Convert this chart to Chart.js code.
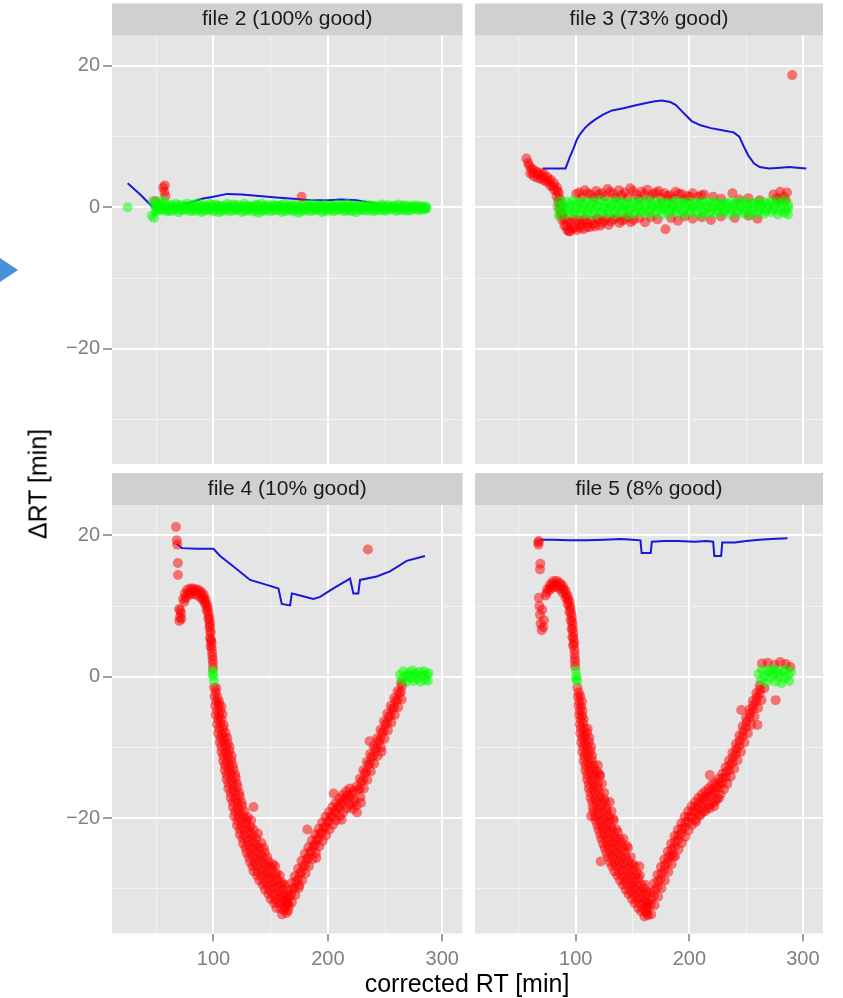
<!DOCTYPE html>
<html>
<head>
<meta charset="utf-8">
<script src="https://cdn.jsdelivr.net/npm/chart.js@4.4.1/dist/chart.umd.min.js"></script>
<style>
  body { margin: 0; width: 843px; height: 998px; position: relative; overflow: hidden; background: #fff;
         font-family: "Liberation Sans", Arial, sans-serif; }
  canvas { position: absolute; }
  .title { position: absolute; font-size: 25px; color: #000; white-space: nowrap; }
  #arrow { position: absolute; left: 0; top: 258px; width: 0; height: 0;
           border-top: 12px solid transparent; border-bottom: 12px solid transparent; border-left: 18px solid #4a8fd8; }
</style>
</head>
<body>
<div id="arrow"></div>
<canvas id="f2" width="470" height="470" style="left:0;top:0"></canvas>
<canvas id="f3" width="373" height="470" style="left:470px;top:0"></canvas>
<canvas id="f4" width="470" height="528" style="left:0;top:470px"></canvas>
<canvas id="f5" width="373" height="528" style="left:470px;top:470px"></canvas>
<div class="title" style="left:38px;top:484px;transform:translate(-50%,-50%) rotate(-90deg)">ΔRT [min]</div>
<div class="title" style="left:467px;top:983px;transform:translate(-50%,-50%)">corrected RT [min]</div>
<script>
// axis ticks (minor ticks carry an empty label)
const xTickValues = [50, 100, 150, 200, 250, 300];
const xTickLabels = ['', '100', '', '200', '', '300'];
const yTickValues = [-30, -20, -10, 0, 10, 20];
const yTickLabels = ['', '−20', '', '0', '', '20'];
const xRange = [11.3, 317.7];
const yRange = [-36.3, 24.3];

const facetTitles = ['file 2 (100% good)', 'file 3 (73% good)', 'file 4 (10% good)', 'file 5 (8% good)'];

// ---- file 2 ----
const blue2 = [[25,3.4],[36,1.8],[47,0],[52,-0.1],[60,0],[70,0.2],[80,0.7],[90,1.2],[100,1.5],[112,1.9],[125,1.8],
  [140,1.6],[155,1.4],[170,1.2],[185,1.0],[200,1.0],[212,1.1],[225,1.0],[236,0.7],[245,0.4]];
const red2 = [[49,0.9],[56,2.8],[57,2.2],[58,1.6],[57.5,3.1],[177,1.5]];
const green2 = [[25,0],[48,-1.5],[50,0.3],[55,1.0],
  [47,0.9],[52,0.5],[57,0.6],[62,0.4],[67,0.5],[72,0.3],[77,0.5],[82,0.4],[87,0.6],[92,0.3],[97,0.5],[102,0.4],
  [107,0.2],[112,0.5],[117,0.4],[122,0.3],[127,0.5],[132,0.2],[137,0.4],[142,0.5],[147,0.3],[152,0.4],[157,0.2],
  [162,0.5],[167,0.3],[172,0.4],[177,0.2],[182,0.4],[187,0.5],[192,0.3],[197,0.4],[202,0.2],[207,0.4],[212,0.3],
  [217,0.5],[222,0.3],[227,0.2],[232,0.4],[237,0.3],[242,0.2],[247,0.4],[252,0.3],[257,0.2],[262,0.4],[267,0.3],
  [272,0.2],[277,0.3],[282,0.2],[286,0.1],
  [46,-1.2],[49.5,-0.6],[54.5,-0.4],[59.5,-0.6],[64.5,-0.5],[69.5,-0.7],[74.5,-0.4],[79.5,-0.6],[84.5,-0.5],
  [89.5,-0.7],[94.5,-0.4],[99.5,-0.6],[104.5,-0.7],[109.5,-0.5],[114.5,-0.6],[119.5,-0.4],[124.5,-0.7],[129.5,-0.5],
  [134.5,-0.6],[139.5,-0.8],[144.5,-0.5],[149.5,-0.6],[154.5,-0.4],[159.5,-0.7],[164.5,-0.5],[169.5,-0.6],
  [174.5,-0.8],[179.5,-0.5],[184.5,-0.6],[189.5,-0.4],[194.5,-0.7],[199.5,-0.5],[204.5,-0.6],[209.5,-0.4],
  [214.5,-0.6],[219.5,-0.5],[224.5,-0.7],[229.5,-0.4],[234.5,-0.5],[239.5,-0.6],[244.5,-0.4],[249.5,-0.5],
  [254.5,-0.3],[259.5,-0.5],[264.5,-0.4],[269.5,-0.5],[274.5,-0.3],[279.5,-0.4],[284.5,-0.3]];
const green2Mid = [[50,-0.1],[55,0.0],[60,-0.2],[65,0.0],[70,-0.1],[75,0.1],[80,-0.1],[85,0.0],[90,-0.2],[95,0.0],
  [100,-0.1],[105,0.1],[110,-0.1],[115,0.0],[120,-0.2],[125,0.0],[130,-0.1],[135,0.0],[140,-0.2],[145,0.0],
  [150,-0.1],[155,0.1],[160,-0.1],[165,0.0],[170,-0.2],[175,0.0],[180,-0.1],[185,0.0],[190,-0.1],[195,0.1],
  [200,-0.1],[205,0.0],[210,-0.2],[215,0.0],[220,-0.1],[225,0.0],[230,-0.1],[235,0.1],[240,-0.1],[245,0.0],
  [250,-0.1],[255,0.0],[260,-0.1],[265,0.0],[270,-0.1],[275,0.0],[280,-0.1],[285,-0.1],
  [49,0.2],[54,0.3],[59,0.1],[64,0.2],[69,0.3],[74,0.1],[79,0.2],[84,0.3],[89,0.2],[94,0.1],[99,0.3],[104,0.2],
  [109,0.1],[114,0.2],[119,0.3],[124,0.1],[129,0.2],[134,0.1],[139,0.3],[144,0.2],[149,0.1],[154,0.2],[159,0.3],
  [164,0.1],[169,0.2],[174,0.1],[179,0.2],[184,0.3],[189,0.1],[194,0.2],[199,0.1],[204,0.2],[209,0.3],[214,0.1],
  [219,0.2],[224,0.1],[229,0.2],[234,0.1],[239,0.2],[244,0.1],[249,0.2],[254,0.1],[259,0.2],[264,0.1],[269,0.2],
  [274,0.1],[279,0.1],[284,0.0],
  [51.5,-0.4],[56.5,-0.3],[61.5,-0.5],[66.5,-0.3],[71.5,-0.4],[76.5,-0.2],[81.5,-0.4],[86.5,-0.3],[91.5,-0.5],
  [96.5,-0.3],[101.5,-0.4],[106.5,-0.5],[111.5,-0.3],[116.5,-0.4],[121.5,-0.3],[126.5,-0.5],[131.5,-0.3],
  [136.5,-0.4],[141.5,-0.5],[146.5,-0.3],[151.5,-0.4],[156.5,-0.3],[161.5,-0.5],[166.5,-0.3],[171.5,-0.4],
  [176.5,-0.5],[181.5,-0.3],[186.5,-0.4],[191.5,-0.3],[196.5,-0.5],[201.5,-0.3],[206.5,-0.4],[211.5,-0.3],
  [216.5,-0.4],[221.5,-0.5],[226.5,-0.3],[231.5,-0.4],[236.5,-0.3],[241.5,-0.4],[246.5,-0.3],[251.5,-0.4],
  [256.5,-0.2],[261.5,-0.4],[266.5,-0.3],[271.5,-0.4],[276.5,-0.2],[281.5,-0.3],[286,-0.2]];

// ---- file 3 ----
const blue3 = [[71,5.5],[80,5.5],[91,5.5],[95,7.2],[98,8.3],[101,9.6],[104,10.4],[108,11.2],[112,11.8],[117,12.4],
  [124,13.1],[132,13.7],[142,14.0],[152,14.4],[163,14.8],[170,15.0],[176,15.1],[183,14.9],[188,14.5],[194,13.5],
  [202,12.2],[210,11.6],[219,11.2],[229,10.9],[239,10.6],[244,10.0],[248,8.6],[252,7.3],[257,6.2],[262,5.7],
  [270,5.5],[280,5.6],[288,5.7],[295,5.6],[303,5.5]];
const red3 = [[290.6,18.7],
  [56.5,6.9],[59,5.9],[61,5.5],[63,5.3],[66,5.0],[69,4.9],[72,4.7],[75,4.3],[78,3.9],[81,3.4],[83.5,2.8],[85,2.0],
  [86,1.2],[87,0.3],[60,4.8],[63,4.4],[66,4.2],[69,4.0],[72,3.8],[75,3.5],[78,3.0],[81,2.5],[83,1.6],[84.5,0.8],
  [85.5,-0.2],[86.5,-1.0],[88,-1.8],[90,-2.6],[92.5,-3.2],[95,-3.4],[88.5,-0.8],[90,-1.6],
  [103,2.1],[108,2.4],[113,1.8],[118,2.3],[123,2.0],[128,2.6],[133,1.9],[138,2.4],[143,2.1],[148,2.7],[153,1.8],
  [158,2.2],[163,2.5],[168,1.9],[173,2.3],[178,2.0],[183,1.7],[188,2.2],[193,1.9],[198,1.6],[203,2.0],[208,1.5],
  [213,1.8],[105.5,1.4],[115.5,1.3],[125.5,1.5],[135.5,1.3],[145.5,1.4],[155.5,1.2],[165.5,1.4],[175.5,1.3],
  [185.5,1.2],[195.5,1.1],[221,1.5],[228,1.2],[238,2.0],[244,1.1],[252,1.3],[262,1.0],
  [274,1.8],[277,1.3],[280,2.2],[283,1.5],[286,2.1],[285,1.0],[279,0.9],
  [92,-2.6],[96,-2.2],[99,-2.9],[102,-1.8],[105,-2.5],[108,-1.6],[111,-2.3],[114,-1.9],[117,-2.7],[120,-1.7],
  [123,-2.2],[127,-1.5],[131,-2.0],[136,-1.4],[141,-1.9],[146,-1.3],[151,-1.8],[156,-1.5],[161,-2.1],[166,-1.4],
  [172,-1.7],[179,-3.1],[184,-1.5],[190,-1.9],[196,-1.3],[203,-1.6],[211,-1.4],[219,-1.8],[228,-1.3],[240,-1.5],
  [252,-1.2],[260,-1.6],[94,-3.4],[97,-3.0],[101,-3.2],[104,-2.9],[107,-3.1],[110,-2.8]];
const red3Fill = [[100.5,1.9],[110.5,2.0],[120.5,1.8],[130.5,2.2],[140.5,1.7],[150.5,2.3],[160.5,1.8],[170.5,2.1],
  [180.5,1.6],[190.5,1.9],[200.5,1.5],[210.5,1.7],[93.5,-2.0],[98.5,-1.6],[103.5,-2.3],[106.5,-1.9],[112.5,-2.8],
  [115.5,-2.4],[118.5,-1.5],[121.5,-2.6],[125,-1.9],[129,-2.5],[133.5,-1.7],[138.5,-2.2],[143.5,-1.6],[148.5,-2.1],
  [58,6.3],[62,4.9],[67,4.6],[71,4.3],[76,3.8],[80,3.0],[84,2.3],[86.5,0.6],[87.5,-0.5]];
const green3 = [
  [86,0.9],[92,0.8],[98,1.0],[104,0.7],[110,0.9],[116,0.8],[122,1.0],[128,0.7],[134,0.9],[140,0.8],[146,0.6],
  [152,0.9],[158,0.8],[164,1.0],[170,0.7],[176,0.8],[182,0.6],[188,0.9],[194,0.7],[200,0.8],[206,0.6],[212,0.9],
  [218,0.7],[224,0.8],[230,0.6],[236,0.8],[242,0.7],[248,0.9],[254,0.6],[260,0.8],[266,0.7],[272,0.9],[278,0.8],
  [284,1.0],
  [84,0.1],[89,-0.2],[95,0.0],[101,0.1],[107,-0.1],[113,0.0],[119,0.2],[125,-0.1],[131,0.0],[137,0.1],[143,-0.1],
  [149,0.0],[155,0.1],[161,-0.2],[167,0.0],[173,0.1],[179,-0.1],[185,0.0],[191,0.1],[197,-0.1],[203,0.0],[209,0.1],
  [215,-0.1],[221,0.0],[227,0.1],[233,-0.1],[239,0.0],[245,0.1],[251,-0.1],[257,0.0],[263,0.1],[269,-0.1],[275,0.0],
  [281,0.1],[287,-0.1],
  [85,-1.2],[92,-1.0],[98,-0.8],[104,-1.0],[110,-0.9],[116,-1.1],[122,-0.8],[128,-0.9],[134,-1.0],[140,-0.8],
  [146,-1.1],[152,-0.9],[158,-0.7],[164,-1.0],[170,-0.8],[176,-1.0],[182,-0.9],[188,-0.7],[194,-1.0],[200,-0.8],
  [206,-0.9],[212,-1.1],[218,-0.8],[224,-0.9],[230,-0.7],[236,-1.0],[242,-0.8],[248,-0.9],[254,-1.1],[260,-0.8],
  [266,-0.9],[272,-0.7],[278,-1.0],[284,-0.8],[287,-1.0]];
const green3Fill = [[89,0.5],[95,0.4],[101,0.6],[107,0.4],[113,0.5],[119,0.3],[125,0.5],[131,0.4],[137,0.6],[143,0.4],
  [149,0.5],[155,0.3],[161,0.5],[167,0.4],[173,0.5],[179,0.3],[185,0.5],[191,0.4],[197,0.5],[203,0.3],[209,0.5],
  [215,0.4],[221,0.5],[227,0.3],[233,0.5],[239,0.4],[245,0.5],[251,0.3],[257,0.5],[263,0.4],[269,0.5],[275,0.4],
  [281,0.5],[287,0.4],
  [87,-0.5],[93,-0.4],[99,-0.6],[105,-0.4],[111,-0.5],[117,-0.4],[123,-0.6],[129,-0.4],[135,-0.5],[141,-0.3],
  [147,-0.5],[153,-0.4],[159,-0.6],[165,-0.4],[171,-0.5],[177,-0.3],[183,-0.5],[189,-0.4],[195,-0.5],[201,-0.3],
  [207,-0.5],[213,-0.4],[219,-0.6],[225,-0.4],[231,-0.5],[237,-0.3],[243,-0.5],[249,-0.4],[255,-0.5],[261,-0.4],
  [267,-0.5],[273,-0.3],[279,-0.5],[285,-0.4]];

// ---- file 4 ----
const blue4 = [[68,18.8],[72.4,18.2],[85,18.1],[100,18.1],[105.8,17.1],[117.5,15.6],[132,13.7],[146.6,13.0],
  [156.8,12.5],[159.7,10.3],[167,10.1],[168.5,11.8],[175.7,11.5],[187.3,11.0],[193.2,11.3],[204.8,12.5],
  [219.4,13.9],[222.3,11.8],[226.6,11.8],[228.1,13.7],[242.7,14.2],[254.3,14.9],[268.9,16.4],[284.9,17.1]];
const red4 = [[67.2,21.2],[68,19.3],[68.3,18.7],[68.9,16.1],[69,14.4],[70,9.6],[70.6,8.4],[71.6,9.0],[70.2,7.9],
  [72,8.2],[71,9.4],[235,18.0],
  [73.5,11.0],[75,11.8],[77,12.3],[79.5,12.5],[82,12.5],[84.5,12.4],[87,12.3],[89.5,12.0],[91.5,11.6],[93,11.0],
  [94.5,10.2],[95.5,9.3],[96.5,8.3],[97,7.3],[97.5,6.2],[98,5.1],[98.5,4.0],[99,2.9],[99.5,1.9],
  [76,11.2],[79,11.6],[82,11.7],[85,11.6],[88,11.3],[90.5,10.9],[92.5,10.3],[94,9.4],[95.5,8.2],[96.5,7.0],
  [97,5.5],[97.5,4.3],
  [100.5,-1.5],[102.5,-1.6],[101,-2.8],[103.5,-2.9],[101.5,-4.1],[104.5,-4.0],[107,-4.2],[102,-5.4],[105,-5.5],
  [108,-5.3],[103,-6.7],[106,-6.6],[109,-6.8],[104,-8.0],[107.5,-8.1],[110.5,-7.9],[105.5,-9.3],[109,-9.2],
  [112.5,-9.4],[107,-10.6],[110.5,-10.7],[114,-10.5],[108.5,-11.9],[112,-12.0],[115.5,-11.8],[110,-13.2],
  [113.5,-13.3],[117.5,-13.1],[111.5,-14.5],[115.5,-14.6],[119.5,-14.3],[113,-15.8],[117,-15.9],[121,-15.6],
  [115,-17.1],[119,-17.2],[123,-16.9],[117,-18.4],[121,-18.5],[125,-18.2],[135,-18.4],[118,-19.7],[122,-19.8],
  [126,-19.6],[130,-19.9],[120.5,-21.0],[124.5,-21.1],[128.5,-20.8],[132.5,-21.2],[123,-22.3],[127,-22.4],
  [131,-22.1],[135,-22.5],[139,-22.2],[126,-23.6],[130,-23.7],[134,-23.4],[138,-23.8],[142,-23.5],[129,-24.9],
  [133,-25.0],[137,-24.7],[141,-25.1],[145,-24.8],[132,-26.2],[136,-26.3],[140,-26.0],[144,-26.4],[148,-26.1],
  [152,-26.5],[135,-27.5],[139,-27.6],[143,-27.4],[147,-27.7],[151,-27.3],[155,-27.8],[140,-28.8],[144,-28.9],
  [148,-28.6],[152,-29.0],[156,-28.7],[160,-29.1],[145,-30.1],[149,-30.2],[153,-29.9],[157,-30.3],[161,-30.0],
  [150,-31.4],[154,-31.5],[158,-31.2],[162,-31.6],[165,-31.3],[155,-32.7],[159,-32.8],[162.5,-32.6],[166,-32.4],
  [160,-33.6],[164,-33.4],
  [162,-33.0],[162,-31.5],[165,-32.0],[165,-30.2],[168,-30.8],[168,-29.2],[171,-29.8],[171,-28.2],[174,-28.6],
  [174,-27.1],[177,-27.6],[177,-26.0],[180,-26.6],[180,-25.0],[183,-25.6],[183,-24.1],[186,-24.6],[186,-23.2],
  [189,-23.7],[189,-22.3],[192,-22.8],[192,-21.5],[195,-22.0],[195,-20.6],[198,-21.2],[198,-19.8],[201,-20.4],
  [201,-19.1],[204,-19.8],[204,-18.4],[207,-19.1],[207,-17.8],[210,-18.5],[210,-17.2],[213,-18.0],[213,-16.7],
  [216,-17.4],[216,-16.2],[219,-17.0],[219,-15.8],[222,-17.8],[222,-16.2],[222,-18.7],[225,-18.2],[225,-15.5],
  [228,-15.8],[228,-14.4],[231,-14.6],[231,-13.2],[234,-13.4],[234,-12.0],[237,-12.2],[237,-10.9],[240,-11.1],
  [240,-9.8],[243,-10.0],[243,-8.7],[246,-8.8],[246,-7.5],[249,-7.6],[249,-6.3],[252,-6.5],[252,-5.2],[255,-5.4],
  [255,-4.1],[258,-4.3],[258,-3.0],[261,-3.2],[261,-2.0],[264,-2.1],[264,-0.9],
  [182,-21.6],[236.5,-9.1],[229,-17.8],[205,-16.5],[190,-25.6],[175,-29.5],[212,-20.2],[247,-10.6]];
const red4Fill = [
  [74.5,10.6],[77.5,11.8],[80.5,12.1],[83.5,12.1],[86.5,12.0],[89,11.7],[91,11.2],[93,10.6],[94.8,9.8],[95.8,8.8],
  [96.8,7.7],[97.3,6.5],[97.8,5.2],[98.3,4.7],[98.8,3.4],[99.3,2.4],[99.6,1.2],
  [102,-2.2],[102.5,-3.5],[105,-3.5],[103,-4.8],[106,-4.8],[104,-6.0],[107,-6.0],[105,-7.3],[108.5,-7.3],
  [106,-8.6],[109.5,-8.6],[112,-8.6],[107,-9.9],[111,-9.9],[114,-9.9],[108.5,-11.2],[112.5,-11.2],[116,-11.2],
  [110,-12.5],[114,-12.5],[117,-12.5],[111.5,-13.8],[115.5,-13.8],[119,-13.8],[113,-15.1],[117,-15.1],[120.5,-15.1],
  [115,-16.4],[119,-16.4],[122.5,-16.4],[117,-17.7],[121,-17.7],[124.5,-17.7],[119,-19.0],[123,-19.0],[127,-19.0],
  [121,-20.3],[125,-20.3],[129,-20.3],[133,-20.3],[123,-21.6],[127,-21.6],[131,-21.6],[135,-21.6],
  [125.5,-22.9],[129.5,-22.9],[133.5,-22.9],[137.5,-22.9],[128,-24.2],[132,-24.2],[136,-24.2],[140,-24.2],
  [144,-24.2],[131,-25.5],[135,-25.5],[139,-25.5],[143,-25.5],[147,-25.5],[134,-26.8],[138,-26.8],[142,-26.8],
  [146,-26.8],[150,-26.8],[154,-26.8],[138,-28.1],[142,-28.1],[146,-28.1],[150,-28.1],[154,-28.1],[158,-28.1],
  [143,-29.4],[147,-29.4],[151,-29.4],[155,-29.4],[159,-29.4],[162,-29.4],[148,-30.7],[152,-30.7],[156,-30.7],
  [160,-30.7],[163.5,-30.7],[153,-32.0],[157,-32.0],[161,-32.0],[164.5,-32.0],
  [163.5,-32.2],[166.5,-31.0],[169.5,-29.9],[172.5,-28.9],[175.5,-27.8],[178.5,-26.8],[181.5,-25.8],[184.5,-24.8],
  [187.5,-23.9],[190.5,-23.0],[193.5,-22.1],[196.5,-21.3],[199.5,-20.5],[202.5,-19.7],[205.5,-19.0],[208.5,-18.4],
  [211.5,-17.8],[214.5,-17.2],[217.5,-16.7],[220.5,-16.6],[223.5,-17.4],[226.5,-16.0],[229.5,-14.8],[232.5,-13.6],
  [235.5,-12.4],[238.5,-11.3],[241.5,-10.2],[244.5,-9.1],[247.5,-7.9],[250.5,-6.7],[253.5,-5.6],[256.5,-4.5],
  [259.5,-3.4],[262.5,-2.3],[265,-1.2],
  [165.5,-33.0],[168.5,-31.9],[171.5,-30.9],[174.5,-29.9],[177.5,-28.8],[180.5,-27.8],[183.5,-26.8],[186.5,-25.8],
  [189.5,-24.9],[192.5,-24.0],[195.5,-23.2],[198.5,-22.4],[201.5,-21.6],[204.5,-20.9],[207.5,-20.3],[210.5,-19.7],
  [213.5,-19.2],[216.5,-18.6],[219.5,-18.2],[225.5,-19.2],[228.5,-17.0],[231.5,-15.8],[234.5,-14.6],[237.5,-13.4],
  [240.5,-12.3],[243.5,-11.2],[246.5,-10.0],[249.5,-8.8],[252.5,-7.6],[255.5,-6.5],[258.5,-5.4],[261.5,-4.3],
  [264.5,-3.2]];
const green4 = [[99.5,0.9],[100,0.1],[100.5,-0.6],[99.2,0.4],
  [263,0.3],[264.5,-0.4],[266,0.8],[268,0.1],[269,-0.7],[271,0.6],[272,-0.2],[274,0.9],[275,-0.6],[277,0.3],
  [278,-0.3],[280,0.7],[281,-0.7],[283,0.2],[284,0.8],[285,-0.4],[286.5,0.3],[287.5,-0.6],[270,0.2],[276,0.5],
  [288,0.5]];

// ---- file 5 ----
const blue5 = [[68.6,19.4],[80,19.4],[95,19.3],[110,19.3],[125,19.4],[140,19.5],[150,19.4],[157,19.3],[158,17.5],
  [166,17.5],[167,19.1],[178,19.2],[190,19.2],[205,19.1],[215,19.2],[221,19.1],[222,17.1],[228,17.1],[229,19.0],
  [240,19.0],[250,19.2],[262,19.4],[272,19.5],[286.4,19.6]];
const red5 = [[67,19.0],[67.5,19.2],[67.2,18.7],[68.5,15.2],[68.8,16.0],[67.5,11.2],[68,10.0],[68.5,8.8],[69,7.5],
  [70,6.6],[71.5,7.0],[72,8.0],[70.5,9.5],
  [73.5,11.5],[75,12.4],[77.5,13.1],[80,13.5],[83,13.6],[86,13.3],[88.5,12.9],[91,12.2],[93,11.4],[94.5,10.6],
  [95.5,9.6],[96.5,8.5],[97.2,7.4],[97.8,6.2],[98.4,5.0],[99,3.8],[99.2,2.6],[99.5,1.5],[77,12.3],[80,12.6],
  [83,12.7],[86,12.4],[88.5,11.9],[91,11.2],[92.8,10.3],[94.3,9.2],[95.5,8.0],[96.3,6.8],[97,5.6],[97.6,4.4],
  [101.5,-1.5],[102,-2.8],[104,-2.7],[102.5,-4.1],[104.8,-4.2],[103,-5.4],[105.5,-5.5],[103.5,-6.7],[106.3,-6.6],
  [104,-8.0],[107.2,-8.1],[110,-7.9],[104.8,-9.3],[108,-9.4],[111.5,-9.2],[105.8,-10.6],[109.2,-10.7],[113,-10.5],
  [107,-11.9],[110.5,-12.0],[114,-11.8],[108.5,-13.2],[112,-13.3],[115.5,-13.1],[119,-13.4],[110,-14.5],
  [113.8,-14.6],[117.5,-14.4],[121.5,-14.0],[111.5,-15.8],[115.5,-15.9],[119.5,-15.7],[113,-17.1],[117,-17.2],
  [121,-17.0],[125,-17.3],[115,-18.4],[119,-18.5],[123,-18.3],[127,-18.6],[113.5,-19.7],[117,-19.8],[121,-19.6],
  [125,-19.9],[129,-19.7],[133,-20.1],[119,-21.0],[123,-21.1],[127,-20.9],[131,-21.2],[121.5,-22.3],[125.5,-22.4],
  [129.5,-22.2],[133.5,-22.5],[137,-22.0],[124,-23.6],[128,-23.7],[132,-23.5],[136,-23.8],[140,-23.4],[145,-23.9],
  [127,-24.9],[131,-25.0],[135,-24.8],[139,-25.1],[143,-24.7],[122,-26.1],[130,-26.2],[134,-26.3],[138,-26.1],
  [142,-26.4],[146,-26.0],[150,-26.5],[134,-27.5],[138,-27.6],[142,-27.4],[146,-27.7],[150,-27.3],[154,-27.8],
  [139,-28.8],[143,-28.9],[147,-28.7],[151,-29.0],[155,-28.6],[144,-30.1],[148,-30.2],[152,-30.0],[156,-30.3],
  [160,-29.9],[163,-30.4],[149.5,-31.4],[153.5,-31.5],[157.5,-31.3],[161.5,-31.6],[155,-32.7],[159,-32.8],
  [162.5,-32.6],[160.5,-33.9],[163.5,-33.7],
  [163,-33.5],[163,-32.0],[166,-32.2],[166,-30.5],[169,-31.0],[169,-29.2],[172,-29.8],[172,-28.0],[175,-28.6],
  [175,-26.9],[178,-27.4],[178,-25.8],[181,-26.3],[181,-24.7],[184,-25.2],[184,-23.6],[187,-24.1],[187,-22.5],
  [190,-23.1],[190,-21.6],[193,-22.2],[193,-20.7],[196,-21.3],[196,-19.8],[199,-20.5],[199,-19.0],[202,-19.8],
  [202,-18.3],[205,-19.1],[205,-17.7],[208,-18.5],[208,-17.1],[211,-18.0],[211,-16.6],[214,-17.5],[214,-16.2],
  [217,-17.0],[217,-15.8],[220,-16.6],[220,-15.2],[223,-16.2],[223,-14.9],[223,-17.6],[226,-15.7],[226,-14.4],
  [229,-15.0],[229,-13.7],[232,-14.2],[232,-12.8],[235,-13.2],[235,-11.8],[238,-12.1],[238,-10.7],[241,-10.9],
  [241,-9.5],[244,-9.7],[244,-8.3],[247,-8.4],[247,-7.0],[250,-7.1],[250,-5.8],[253,-5.8],[253,-4.6],[256,-4.6],
  [256,-3.4],[259,-3.5],[259,-2.3],[262,-2.4],[262,-1.2],
  [218,-13.9],[245.7,-4.7],[276,-3.3],[260,-6.8],[186,-25.4],[206,-20.5],
  [264,1.9],[269,2.0],[275,1.7],[280,2.1],[285,1.8],[289,1.4],[266,-1.6]];
const red5Fill = [
  [74.5,11.9],[77.5,12.7],[80.5,13.1],[83.5,13.2],[86.5,12.9],[89,12.4],[91.5,11.7],[93.3,10.9],[94.8,10.0],
  [95.9,9.0],[96.8,7.9],[97.4,6.8],[97.9,5.6],[98.5,4.6],[99,3.2],[99.4,2.1],
  [102.5,-2.2],[103,-3.5],[105.5,-3.5],[103.5,-4.8],[106,-4.8],[104,-6.0],[107,-6.0],[104.5,-7.3],[107.5,-7.3],
  [110.5,-7.3],[105.5,-8.6],[108.5,-8.6],[112,-8.6],[106.5,-9.9],[110,-9.9],[113.5,-9.9],[107.5,-11.2],[111,-11.2],
  [114.5,-11.2],[108.5,-12.5],[112.5,-12.5],[116,-12.5],[119.5,-12.5],[110,-13.8],[114,-13.8],[117.5,-13.8],
  [121,-13.8],[111.5,-15.1],[115.5,-15.1],[119.5,-15.1],[123,-15.1],[113,-16.4],[117,-16.4],[121,-16.4],[125,-16.4],
  [114.5,-17.7],[118.5,-17.7],[122.5,-17.7],[126.5,-17.7],[130,-17.7],[115.5,-19.0],[119.5,-19.0],[123.5,-19.0],
  [127.5,-19.0],[131.5,-19.0],[117.5,-20.3],[121.5,-20.3],[125.5,-20.3],[129.5,-20.3],[133.5,-20.3],[120,-21.6],
  [124,-21.6],[128,-21.6],[132,-21.6],[136,-21.6],[122.5,-22.9],[126.5,-22.9],[130.5,-22.9],[134.5,-22.9],
  [138.5,-22.9],[142,-22.9],[125.5,-24.2],[129.5,-24.2],[133.5,-24.2],[137.5,-24.2],[141.5,-24.2],[146,-24.2],
  [128.5,-25.5],[132.5,-25.5],[136.5,-25.5],[140.5,-25.5],[144.5,-25.5],[148.5,-25.5],[132,-26.8],[136,-26.8],
  [140,-26.8],[144,-26.8],[148,-26.8],[152,-26.8],[156,-26.8],[136.5,-28.1],[140.5,-28.1],[144.5,-28.1],
  [148.5,-28.1],[152.5,-28.1],[156.5,-28.1],[141.5,-29.4],[145.5,-29.4],[149.5,-29.4],[153.5,-29.4],[157.5,-29.4],
  [161,-29.4],[146.5,-30.7],[150.5,-30.7],[154.5,-30.7],[158.5,-30.7],[162,-30.7],[152,-32.0],[156,-32.0],
  [160,-32.0],[163.5,-32.0],[157.5,-33.2],[161.5,-33.2],
  [163.5,-32.8],[166.5,-31.4],[169.5,-30.1],[172.5,-28.9],[175.5,-27.8],[178.5,-26.6],[181.5,-25.5],[184.5,-24.4],
  [187.5,-23.3],[190.5,-22.4],[193.5,-21.5],[196.5,-20.6],[199.5,-19.8],[202.5,-19.0],[205.5,-18.4],[208.5,-17.8],
  [211.5,-17.3],[214.5,-16.9],[217.5,-16.4],[220.5,-15.9],[223.5,-15.6],[226.5,-15.1],[229.5,-14.3],[232.5,-13.5],
  [235.5,-12.5],[238.5,-11.4],[241.5,-10.2],[244.5,-9.0],[247.5,-7.7],[250.5,-6.4],[253.5,-5.2],[256.5,-4.0],
  [259.5,-2.9],[262.5,-1.8],
  [210,-19.5],[214,-19.0],[218,-18.6],[222,-18.3],[226,-17.2],
  [166.5,-33.6],[169.5,-32.3],[172.5,-31.1],[175.5,-29.9],[178.5,-28.8],[181.5,-27.6],[184.5,-26.5],[187.5,-25.4],
  [190.5,-24.4],[193.5,-23.5],[196.5,-22.6],[199.5,-21.7],[202.5,-20.9],[205.5,-20.2],[208.5,-19.6],[211.5,-19.1],
  [214.5,-18.6],[217.5,-18.2],[220.5,-17.8],[224.5,-17.2],[227.5,-16.6],[230.5,-15.9],[233.5,-15.1],[236.5,-14.1],
  [239.5,-13.0],[242.5,-11.8],[245.5,-10.6],[248.5,-9.3],[251.5,-8.0],[254.5,-6.8],[257.5,-5.6],[260.5,-4.4],
  [263.5,-3.3]];
const green5 = [[100,0.9],[100.8,0.1],[101.2,-0.6],[100.2,-0.3],
  [261,0.4],[263,-0.5],[264,1.0],[266,0.1],[268,-0.8],[269,0.8],[271,-0.2],[273,1.1],[274,0.3],[276,-0.7],
  [277,0.9],[279,0.0],[281,-0.9],[282,0.7],[284,-0.2],[285,1.0],[287,0.2],[288,-0.6],[289.5,0.7],[271,0.6],
  [278,0.5]];

const FONT = '"Liberation Sans", Arial, sans-serif';
Chart.defaults.font.family = FONT;

const pts = arr => arr.map(([x, y]) => ({x, y}));

// grey panel background + facet strip with its label
const facetPlugin = {
  id: 'facet',
  beforeDraw(chart, args, opts) {
    const {ctx, chartArea: a} = chart;
    ctx.save();
    ctx.fillStyle = '#e5e5e5';
    ctx.fillRect(a.left, a.top, a.right - a.left, a.bottom - a.top);
    ctx.fillStyle = '#d0d0d0';
    ctx.fillRect(a.left, a.top - 32, a.right - a.left, 32);
    ctx.fillStyle = '#1a1a1a';
    ctx.font = '21px ' + FONT;
    ctx.textAlign = 'center';
    ctx.textBaseline = 'middle';
    ctx.fillText(opts.text, (a.left + a.right) / 2, a.top - 16);
    ctx.restore();
  }
};

function gridStyle(labels, values) {
  const isMajor = ctx => labels[values.indexOf(ctx.tick.value)] !== '';
  return {
    color: ctx => isMajor(ctx) ? '#ffffff' : '#f3f3f3',
    lineWidth: ctx => isMajor(ctx) ? 2 : 1,
    tickColor: ctx => isMajor(ctx) ? '#7f7f7f' : 'rgba(0,0,0,0)',
    tickWidth: 1.5
  };
}

function makePanel(id, title, blue, red, green, showY, showX, padding) {
  new Chart(document.getElementById(id), {
    type: 'scatter',
    data: {
      datasets: [
        {data: pts(green), backgroundColor: 'rgba(0,255,0,0.5)', pointRadius: 5, borderWidth: 0, order: 1},
        {data: pts(red), backgroundColor: 'rgba(255,0,0,0.5)', pointRadius: 5, borderWidth: 0, order: 2},
        {data: pts(blue), showLine: true, borderColor: '#1818d8', borderWidth: 2, pointRadius: 0, order: 3}
      ]
    },
    options: {
      responsive: false,
      animation: false,
      devicePixelRatio: 1,
      events: [],
      layout: {padding},
      plugins: {legend: {display: false}, tooltip: {enabled: false}, facet: {text: title}},
      scales: {
        x: {
          type: 'linear', min: xRange[0], max: xRange[1],
          afterBuildTicks: s => { s.ticks = xTickValues.map(v => ({value: v})); },
          afterFit: s => { s.height = showX ? 40 : 0; s.paddingLeft = s.paddingRight = 0; },
          ticks: {display: showX, autoSkip: false, maxRotation: 0, padding: 6, color: '#7f7f7f',
                  font: {size: 20}, callback: v => xTickLabels[xTickValues.indexOf(v)]},
          grid: Object.assign(gridStyle(xTickLabels, xTickValues), {drawTicks: showX, tickLength: 8}),
          border: {display: false}
        },
        y: {
          type: 'linear', min: yRange[0], max: yRange[1],
          afterBuildTicks: s => { s.ticks = yTickValues.map(v => ({value: v})); },
          afterFit: s => { s.width = showY ? 112 : 0; s.paddingTop = s.paddingBottom = 0; },
          ticks: {display: showY, autoSkip: false, padding: 3, color: '#7f7f7f',
                  font: {size: 20}, callback: v => yTickLabels[yTickValues.indexOf(v)]},
          grid: Object.assign(gridStyle(yTickLabels, yTickValues), {drawTicks: showY, tickLength: 9}),
          border: {display: false}
        }
      }
    },
    plugins: [facetPlugin]
  });
}

makePanel('f2', facetTitles[0], blue2, red2, green2.concat(green2Mid), true, false,
  {top: 35.5, right: 7.5, bottom: 6, left: 0});
makePanel('f3', facetTitles[1], blue3, red3.concat(red3Fill), green3.concat(green3Fill), false, false,
  {top: 35.5, right: 20, bottom: 6, left: 0.7});
makePanel('f4', facetTitles[2], blue4, red4.concat(red4Fill), green4, true, true,
  {top: 35, right: 7.5, bottom: 24.5, left: 0});
makePanel('f5', facetTitles[3], blue5, red5.concat(red5Fill), green5, false, true,
  {top: 35, right: 20, bottom: 24.5, left: 0.7});
</script>
</body>
</html>
